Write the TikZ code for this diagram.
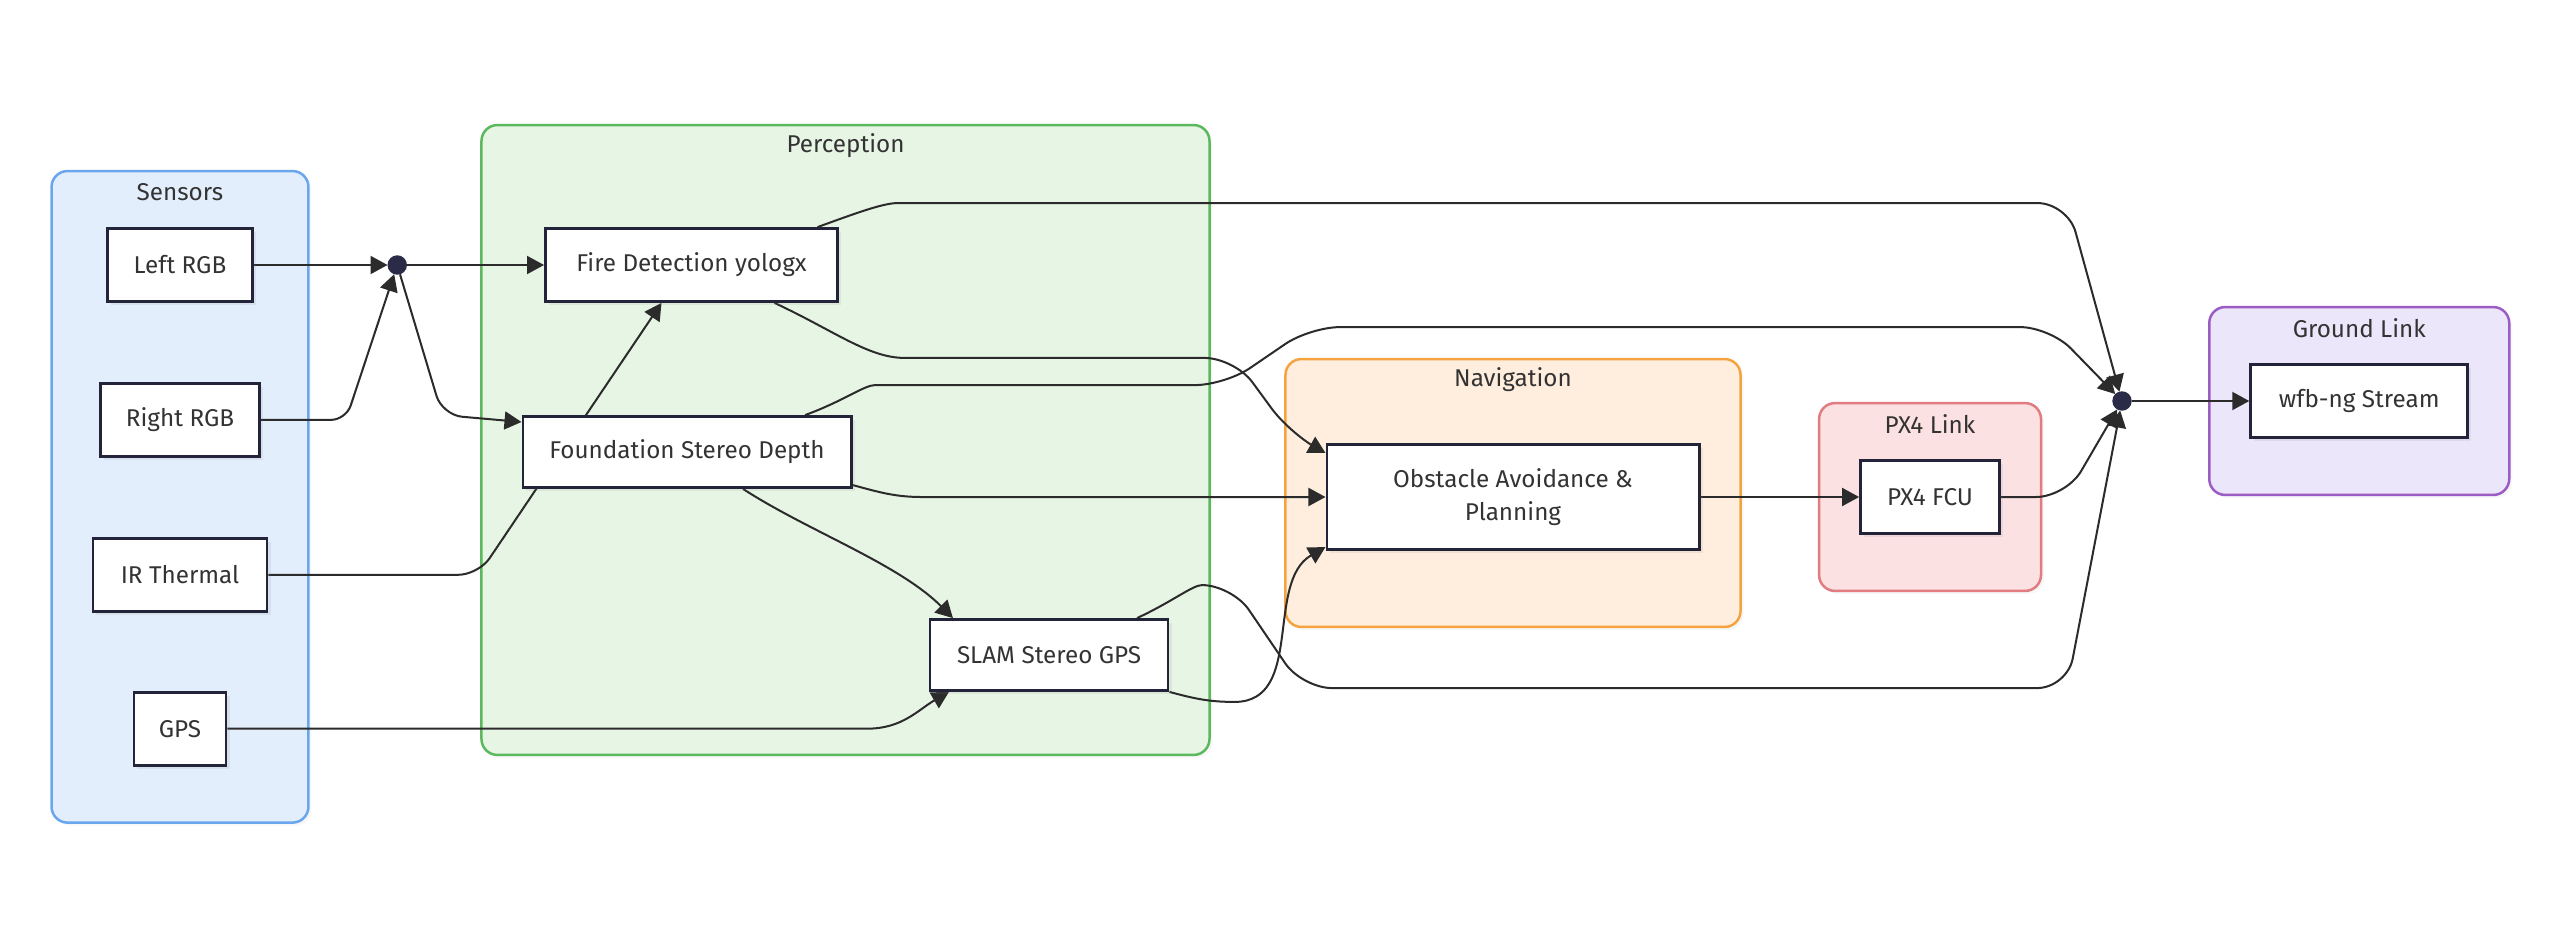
\documentclass[tikz,border=0pt]{standalone}
\usepackage{fontspec}
\setmainfont{Fira Sans}
\usetikzlibrary{arrows.meta, positioning, fit, shadows}

\definecolor{sensfill}{HTML}{E3EEFC}
\definecolor{sensline}{HTML}{6AA6EE}
\definecolor{percfill}{HTML}{E7F5E4}
\definecolor{percline}{HTML}{5CB85C}
\definecolor{navfill}{HTML}{FFEEDD}
\definecolor{navline}{HTML}{F5A33F}
\definecolor{pxfill}{HTML}{FCE1E2}
\definecolor{pxline}{HTML}{E27C80}
\definecolor{gndfill}{HTML}{ECE6FA}
\definecolor{gndline}{HTML}{9B5DC4}
\definecolor{nodeline}{HTML}{23233A}
\definecolor{edgegray}{HTML}{2B2B2B}
\definecolor{jointblue}{HTML}{2A2B47}
\definecolor{textgray}{HTML}{333333}

\pgfdeclarelayer{groups}
\pgfdeclarelayer{wires}
\pgfsetlayers{groups,wires,main}

\tikzset{
    unitbox/.style={rectangle, draw=nodeline, fill=white, line width=0.028cm, minimum height=0.73cm, align=center, text=textgray, drop shadow={shadow xshift=0.035cm, shadow yshift=-0.035cm, opacity=0.12}},
    groupbox/.style={rectangle, rounded corners=0.16cm, line width=0.025cm, inner xsep=0.4cm, inner ysep=0.56cm, drop shadow={shadow xshift=0.03cm, shadow yshift=-0.03cm, opacity=0.06}},
    grouplabel/.style={anchor=center, inner sep=0pt, yshift=-0.22cm, text=textgray},
    joint/.style={circle, fill=jointblue, draw=jointblue, inner sep=0pt, minimum size=0.18cm},
    flow/.style={line width=0.02cm, draw=edgegray, -{Triangle[length=0.17cm,width=0.18cm]}},
}

\begin{document}
\begin{tikzpicture}[x=0.01cm, y=0.01cm, font=\fontsize{6.9pt}{9.6pt}\selectfont]
\useasboundingbox (0,0) rectangle (2560,932);

% Sensors column
\node[unitbox, minimum width=1.45cm] (lrgb) at (180,667) {Left RGB};
\node[unitbox, minimum width=1.59cm, below=0.79cm of lrgb] (rrgb) {Right RGB};
\node[unitbox, minimum width=1.74cm, below=0.79cm of rrgb] (ir) {IR Thermal};
\node[unitbox, minimum width=0.92cm, below=0.78cm of ir] (gps) {GPS};

% Stereo junction
\node[joint, right=1.335cm of lrgb] (j1) {};

% Perception
\node[unitbox, minimum width=2.92cm, right=1.37cm of j1] (fire) {Fire Detection yologx};
\node[unitbox, minimum width=3.28cm, minimum height=0.71cm] (found) at (687,480) {Foundation Stereo Depth};
\node[unitbox, minimum width=2.38cm, minimum height=0.71cm] (slam) at (1049,277) {SLAM Stereo GPS};

% Navigation and PX4 link
\node[unitbox, minimum width=3.72cm, minimum height=1.05cm] (obst) at (1513,435) {Obstacle Avoidance \&\\Planning};
\node[unitbox, minimum width=1.39cm, right=1.585cm of obst] (fcu) {PX4 FCU};

% Ground link
\node[joint] (j2) at (2122,531) {};
\node[unitbox, minimum width=2.17cm, right=1.175cm of j2] (wfb) {wfb-ng Stream};

% Group containers
\begin{pgfonlayer}{groups}
\fill[white] (0,0) rectangle (2560,932);
\node[groupbox, draw=sensline, fill=sensfill, fit=(lrgb)(ir)(gps), label={[grouplabel]north:Sensors}] (sensors) {};
\node[groupbox, draw=percline, fill=percfill, inner ysep=0.63cm, fit={(found)(slam)([yshift=0.39cm]fire.north)}, label={[grouplabel]north:Perception}] (perception) {};
\node[groupbox, draw=navline, fill=navfill, inner ysep=0.76cm, fit={(obst)([yshift=0.08cm]obst.north)}, label={[grouplabel]north:Navigation}] (navigation) {};
\node[groupbox, draw=pxline, fill=pxfill, fit=(fcu), label={[grouplabel]north:PX4 Link}] (px4link) {};
\node[groupbox, draw=gndline, fill=gndfill, fit=(wfb), label={[grouplabel]north:Ground Link}] (groundlink) {};
\end{pgfonlayer}

% Connectors (under the boxes)
\begin{pgfonlayer}{wires}
\draw[flow] (lrgb) -- (j1);
\draw[flow, rounded corners=0.15cm] (rrgb.east) -- ++(85,0) -- (j1);
\draw[flow] (j1) -- (fire);
\draw[flow, rounded corners=0.2cm] (j1) -- ++(45,-150) -- ([yshift=0.3cm]found.west);
\draw[flow, rounded corners=0.2cm] (ir.east) -- ++(210,0) -- ([xshift=-0.3cm]fire.south);
\draw[flow] (gps.east) -- ++(640,0) to[out=0,in=210] ([xshift=-1cm]slam.south);
\draw[flow] ([xshift=0.56cm]found.south) to[out=-33,in=135,looseness=0.8] ([xshift=-0.96cm]slam.north);
\draw[flow] ([yshift=-0.33cm]found.east) to[out=-15,in=180] ++(70,-12) -- (obst.west);
\draw[flow, rounded corners=0.3cm] ([xshift=0.83cm]fire.south) to[out=-25,in=180] ++(160,-55) -- ++(300,0) -- ++(55,-75) -- ([yshift=0.44cm]obst.west);
\draw[flow] (slam.south east) to[out=-15,in=180] ++(65,-10) to[out=0,in=210] ([yshift=-0.5cm]obst.west);
\draw[flow] (obst) -- (fcu);

% Into the ground link junction
\draw[flow, rounded corners=0.3cm] ([xshift=1.26cm]fire.north) to[out=20,in=180] ++(110,24) -- ++(1140,0) -- (j2);
\draw[flow, rounded corners=0.3cm] ([xshift=1.18cm]found.north) to[out=20,in=180] ++(100,30) -- ++(320,0) -- ++(85,58) -- ++(740,0) -- (j2);
\draw[flow, rounded corners=0.3cm] ([xshift=0.88cm]slam.north) to[out=25,in=180] ++(95,33) -- ++(70,-103) -- ++(765,0) -- (j2);
\draw[flow, rounded corners=0.3cm] (fcu.east) -- ++(65,0) -- (j2);
\draw[flow] (j2) -- (wfb);
\end{pgfonlayer}
\end{tikzpicture}
\end{document}
